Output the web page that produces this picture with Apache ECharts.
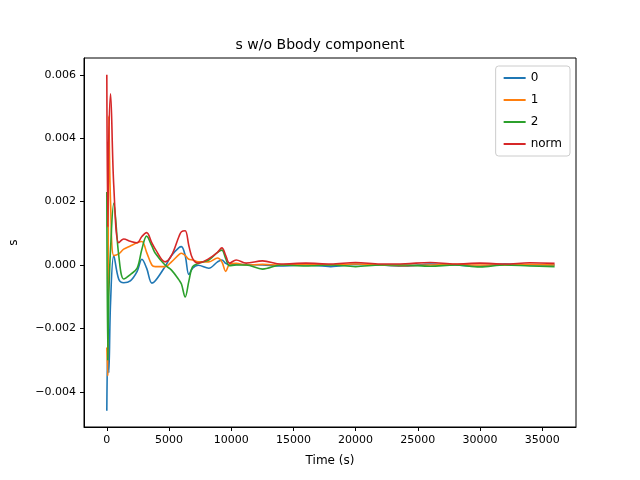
<!DOCTYPE html>
<html><head><meta charset="utf-8">
<script src="https://cdn.jsdelivr.net/npm/echarts@6/dist/echarts.min.js"></script>
<style>html,body{margin:0;padding:0;background:#fff}#c{width:640px;height:480px}</style>
</head><body><div id="c"></div>
<script>
var times = [0, 80, 160, 300, 560, 960, 1360, 1890, 2440, 2820, 3200, 3620, 3900, 4680, 5200, 5800, 6000, 6300, 6600, 6900, 7340, 8200, 8900, 9250, 9560, 9860, 10400, 11200, 12520, 14000, 16000, 18000, 20000, 22000, 24000, 26000, 28000, 30000, 32000, 34000, 36000];
var s0 = [-0.0046,-0.0025,-0.0034,-0.0012,0.0003,-0.00045,-0.00056,-0.0005,-0.0002,0.00018,-0.0001,-0.00057,-0.0005,-0.00005,0.0003,0.00055,0.00058,0.0003,-0.0003,-0.0001,-0.00001,-0.0001,0.0001,0.00016,0.00005,0.0,0.00002,0.00001,0.0,-0.00003,0.0,-0.00005,0.00002,0.0,-0.00004,0.00003,0.0,-0.00004,0.00003,0.0,0.0];
var s1 = [-0.0026,-0.0035,0.0047,0.002,0.0003,0.00035,0.0005,0.0006,0.0007,0.00074,0.0004,0.0,-0.00005,-0.00005,0.0001,0.00033,0.00037,0.0003,0.00018,0.00016,0.0001,0.0001,0.00022,0.0001,-0.0002,0.00002,0.00005,0.0,0.00002,0.0,0.00002,0.0,0.00003,0.0,-0.00002,0.0,0.00002,0.0,0.0,0.00002,0.0];
var s2 = [0.0023,-0.003,-0.001,0.0005,0.00195,0.0003,-0.00044,-0.0003,-0.0001,0.0005,0.00091,0.0006,0.00037,0.0,-0.00016,-0.00047,-0.0006,-0.00101,-0.0005,-0.00005,0.00005,0.00016,0.0004,0.00047,0.0002,-0.00002,0.0,0.0,-0.00013,0.0,-0.00003,0.0,-0.00005,0.0,0.0,-0.00004,0.0,-0.00006,0.0,-0.00003,-0.00005];
var norm = [0.006,0.0012,0.004,0.0054,0.0025,0.0007,0.00082,0.00075,0.0007,0.0009,0.00102,0.0007,0.0005,0.0001,0.0003,0.0009,0.00105,0.00108,0.0006,0.0002,0.00006,0.0002,0.0004,0.00054,0.0003,0.00006,0.00016,0.00006,0.00013,0.00003,0.00006,0.00003,0.00008,0.00003,0.00004,0.00008,0.00003,0.00006,0.00003,0.00007,0.00005];
var xTicks = [0, 5000, 10000, 15000, 20000, 25000, 30000, 35000];
var yTicks = [-0.004, -0.002, 0, 0.002, 0.004, 0.006];
var names = ['0', '1', '2', 'norm'];
var colors = ['#1f77b4', '#ff7f0e', '#2ca02c', '#d62728'];

function pairs(v) { return times.map(function (t, i) { return [t, v[i]]; }); }
var font = 'DejaVu Sans';
var chart = echarts.init(document.getElementById('c'));
chart.setOption({
  animation: false,
  textStyle: { fontFamily: font },
  title: { text: 's w/o Bbody component', left: 'center', top: 33, textStyle: { fontFamily: font, fontSize: 14, fontWeight: 'normal', color: '#000' } },
  grid: { left: 80, right: 64, top: 58, bottom: 53, show: true, borderColor: '#000', borderWidth: 1 },
  legend: {
    orient: 'vertical', right: 70, top: 66, itemWidth: 22, itemHeight: 2, itemGap: 10, icon: 'rect',
    borderColor: '#ccc', borderWidth: 1, borderRadius: 3, padding: [6, 8, 6, 8],
    textStyle: { fontFamily: font, fontSize: 12, color: '#000' }, data: names
  },
  xAxis: {
    type: 'value', min: -1834, max: 37720, name: 'Time (s)', nameLocation: 'middle', nameGap: 28,
    nameTextStyle: { fontFamily: font, fontSize: 12, color: '#000' },
    axisLine: { onZero: false, lineStyle: { color: '#000' } },
    axisTick: { customValues: xTicks, length: 4, lineStyle: { color: '#000' } },
    axisLabel: { customValues: xTicks, color: '#000', fontSize: 11, fontFamily: font,
      formatter: function (v) { return String(v); } },
    splitLine: { show: false }
  },
  yAxis: {
    type: 'value', min: -0.00511, max: 0.00653, name: 's', nameLocation: 'middle', nameGap: 64,
    nameTextStyle: { fontFamily: font, fontSize: 12, color: '#000' },
    axisLine: { show: true, onZero: false, lineStyle: { color: '#000' } },
    axisTick: { show: true, customValues: yTicks, length: 4, lineStyle: { color: '#000' } },
    axisLabel: { customValues: yTicks, color: '#000', fontSize: 11, fontFamily: font,
      formatter: function (v) { return (v < 0 ? '\u2212' : '') + Math.abs(v).toFixed(3); } },
    splitLine: { show: false }
  },
  series: [s0, s1, s2, norm].map(function (v, i) {
    return { name: names[i], type: 'line', data: pairs(v), showSymbol: false, smooth: 0.35,
      lineStyle: { width: 1.6, color: colors[i] }, itemStyle: { color: colors[i] } };
  })
});
</script></body></html>
